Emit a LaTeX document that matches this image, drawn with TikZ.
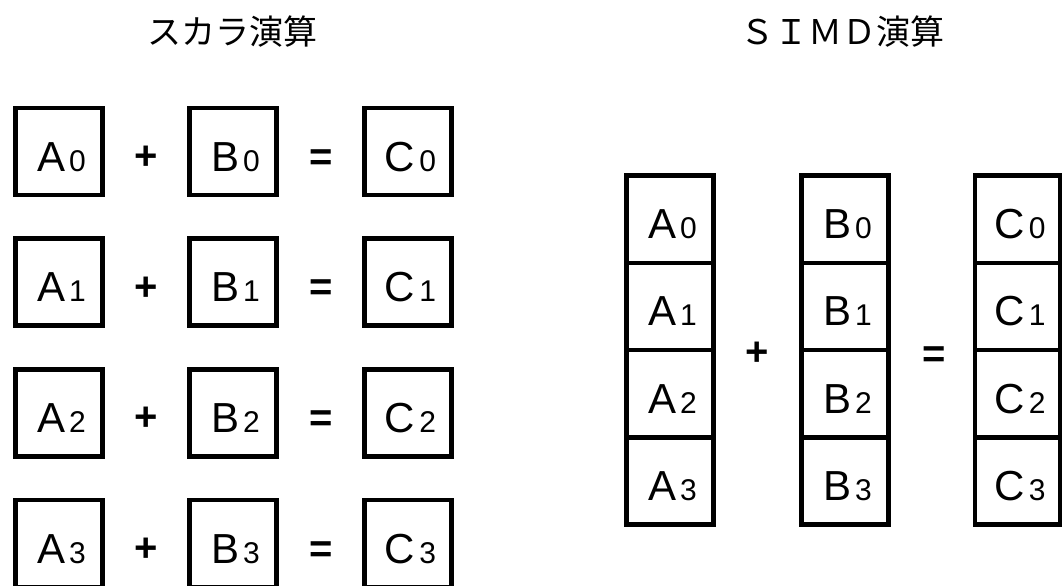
\documentclass[tikz,border=0pt]{standalone}
\usepackage{fontspec}
\setmainfont{Liberation Sans}
\newfontfamily\cjk{Noto Sans CJK JP}
\newcommand\lbl[2]{#1\hspace{4pt}{\fontsize{30}{30}\selectfont #2}}
\begin{document}
\begin{tikzpicture}[x=1pt,y=-1pt,
  box/.style={draw, line width=4.5pt, minimum width=87pt, minimum height=87pt, inner sep=0pt, outer sep=0pt},
  cell/.style={box, minimum height=87.25pt},
  cellc/.style={cell, minimum width=85pt},
  lab/.style={anchor=base, inner sep=0pt, font=\fontsize{42}{42}\selectfont},
  op/.style={anchor=base, inner sep=0pt, font=\bfseries\fontsize{40}{40}\selectfont},
  title/.style={anchor=base, inner sep=0pt, font=\cjk\fontsize{34}{34}\selectfont}]
\useasboundingbox (0,0) rectangle (1063,586);
% titles
\node[title] (t1) at (232.5,45) {スカラ演算};
\node[title] (t2) at (842,45) {ＳＩＭＤ演算};
% scalar
\foreach \i/\y in {0/151.5,1/282.2,2/412.9,3/543.6}{
  \node[box] (la\i) at (59,\y) {};
  \node[box] (lb\i) at (233,\y) {};
  \node[box] (lc\i) at (408,\y) {};
  \node[lab] (tla\i) at ([xshift=2.5pt,yshift=-19.5pt]la\i.center) {\lbl{A}{\i}};
  \node[lab] (tlb\i) at ([xshift=2.5pt,yshift=-19.5pt]lb\i.center) {\lbl{B}{\i}};
  \node[lab] (tlc\i) at ([xshift=2.5pt,yshift=-19.5pt]lc\i.center) {\lbl{C}{\i}};
  \node[op] (lp\i) at (146,{\y+17.8}) {+};
  \node[op] (le\i) at (321,{\y+18.6}) {=};
}
% SIMD
\foreach \i in {0,...,3}{
  \node[cell] (ra\i) at (670,{219.125+87.25*\i}) {};
  \node[cell] (rb\i) at (845,{219.125+87.25*\i}) {};
  \node[cellc] (rc\i) at (1017.5,{219.125+87.25*\i}) {};
  \node[lab] (tra\i) at ([xshift=2.5pt,yshift=-19.5pt]ra\i.center) {\lbl{A}{\i}};
  \node[lab] (trb\i) at ([xshift=2.5pt,yshift=-19.5pt]rb\i.center) {\lbl{B}{\i}};
  \node[lab] (trc\i) at ([xshift=2.5pt,yshift=-19.5pt]rc\i.center) {\lbl{C}{\i}};
}
\node[op] (rp) at (757,365.3) {+};
\node[op] (re) at (934,367.1) {=};
\end{tikzpicture}
\end{document}
